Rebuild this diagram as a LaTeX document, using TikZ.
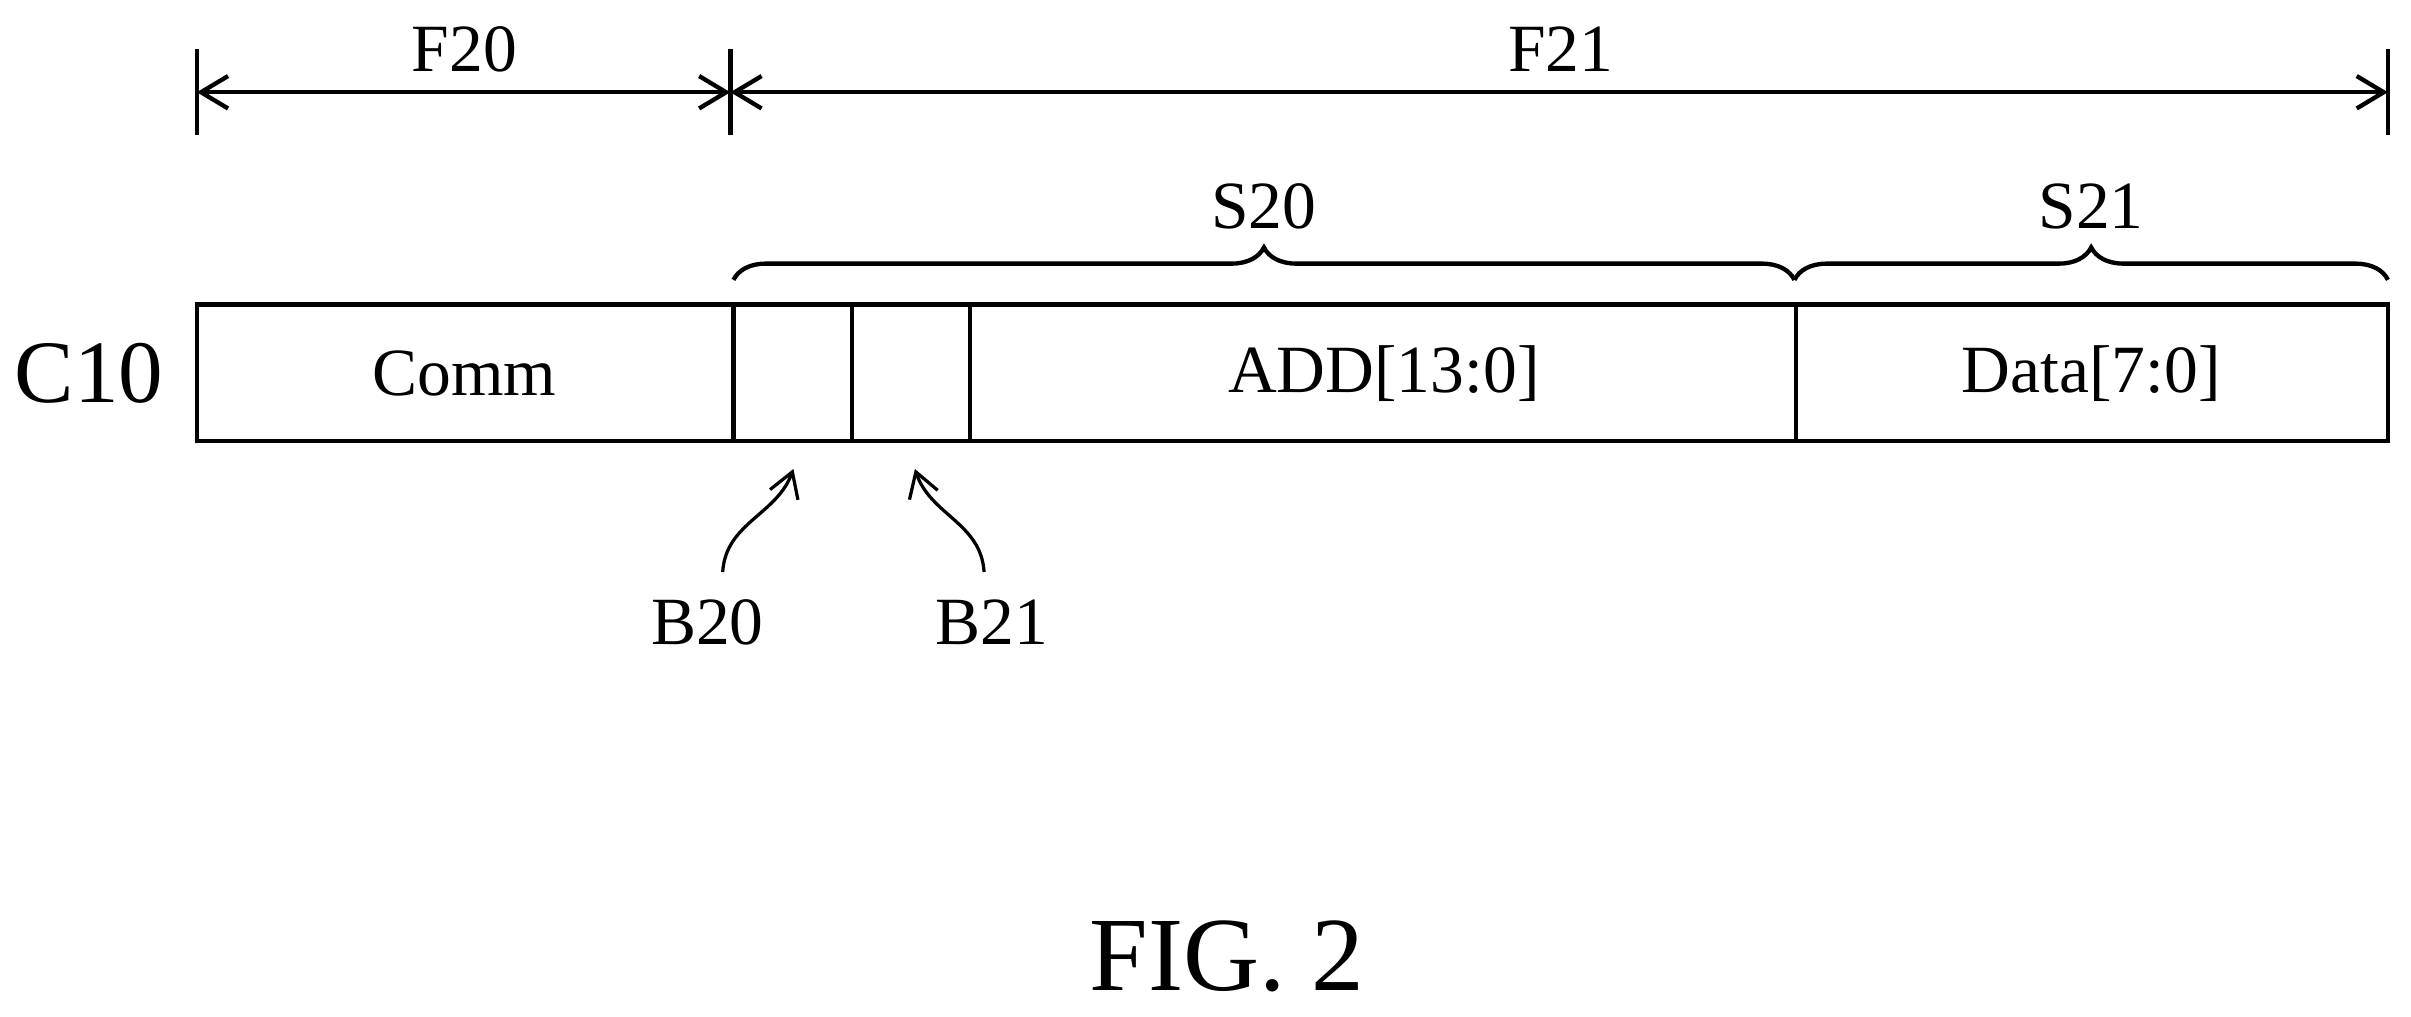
\documentclass[tikz,border=0pt]{standalone}
\usepackage{fontspec}
\setmainfont{Liberation Serif}
\usetikzlibrary{decorations.pathreplacing,arrows.meta}
\begin{document}
\begin{tikzpicture}[x=0.02cm,y=-0.02cm,
  ln/.style={line width=1.6pt},
  lbl/.style={font=\fontsize{25}{29}\selectfont,inner sep=0},
  dim/.style={ln,{Straight Barb[length=10pt,width=12pt]}-{Straight Barb[length=10pt,width=12pt]}},
  br/.style={ln,decorate,decoration={brace,amplitude=12pt}},
  ptr/.style={line width=1.2pt,-{Straight Barb[length=9pt,width=11pt]}}]
\useasboundingbox (0,0) rectangle (1568,661);
% dimension lines
\coordinate (d0) at (128,60); \coordinate (d1) at (475,60); \coordinate (d2) at (1553,60);
\foreach \p in {d0,d1,d2} \draw[ln] ([yshift=16]\p) -- ([yshift=-16]\p);
\draw[dim] (d0) -- (d1);
\draw[dim] (d1) -- (d2);
\node[lbl] (F20) at (302,32) {F20};
\node[lbl] (F21) at (1015,32) {F21};
% braces
\coordinate (b0) at (477,182); \coordinate (b1) at (1167,182); \coordinate (b2) at (1553,182);
\draw[br] (b0) -- (b1);
\draw[br] (b1) -- (b2);
\node[lbl] (S20) at (822,134) {S20};
\node[lbl] (S21) at (1360,134) {S21};
% box
\draw[ln] (128,198) rectangle (1553,287);
\foreach \x in {477,554,631,1168} \draw[ln] (\x,198) -- (\x,287);
\node[font=\fontsize{33}{37}\selectfont,inner sep=0] (C10) at (58,243) {C10};
\node[lbl] (comm) at (302,243) {Comm};
\node[lbl] (add) at (900,243) {ADD[13:0]};
\node[lbl] (data) at (1360,243) {Data[7:0]};
\coordinate (p20) at (516,305);
\coordinate (p21) at (595,305);
% pointers
\node[lbl] (B20) at (460,405) {B20};
\node[lbl] (B21) at (645,405) {B21};
\draw[ptr] (470,372) .. controls (472,340) and (505,335) .. (p20);
\draw[ptr] (640,372) .. controls (638,340) and (605,335) .. (p21);
\node[font=\fontsize{39}{44}\selectfont,inner sep=0] (fig) at (798,622) {FIG. 2};
\end{tikzpicture}
\end{document}
